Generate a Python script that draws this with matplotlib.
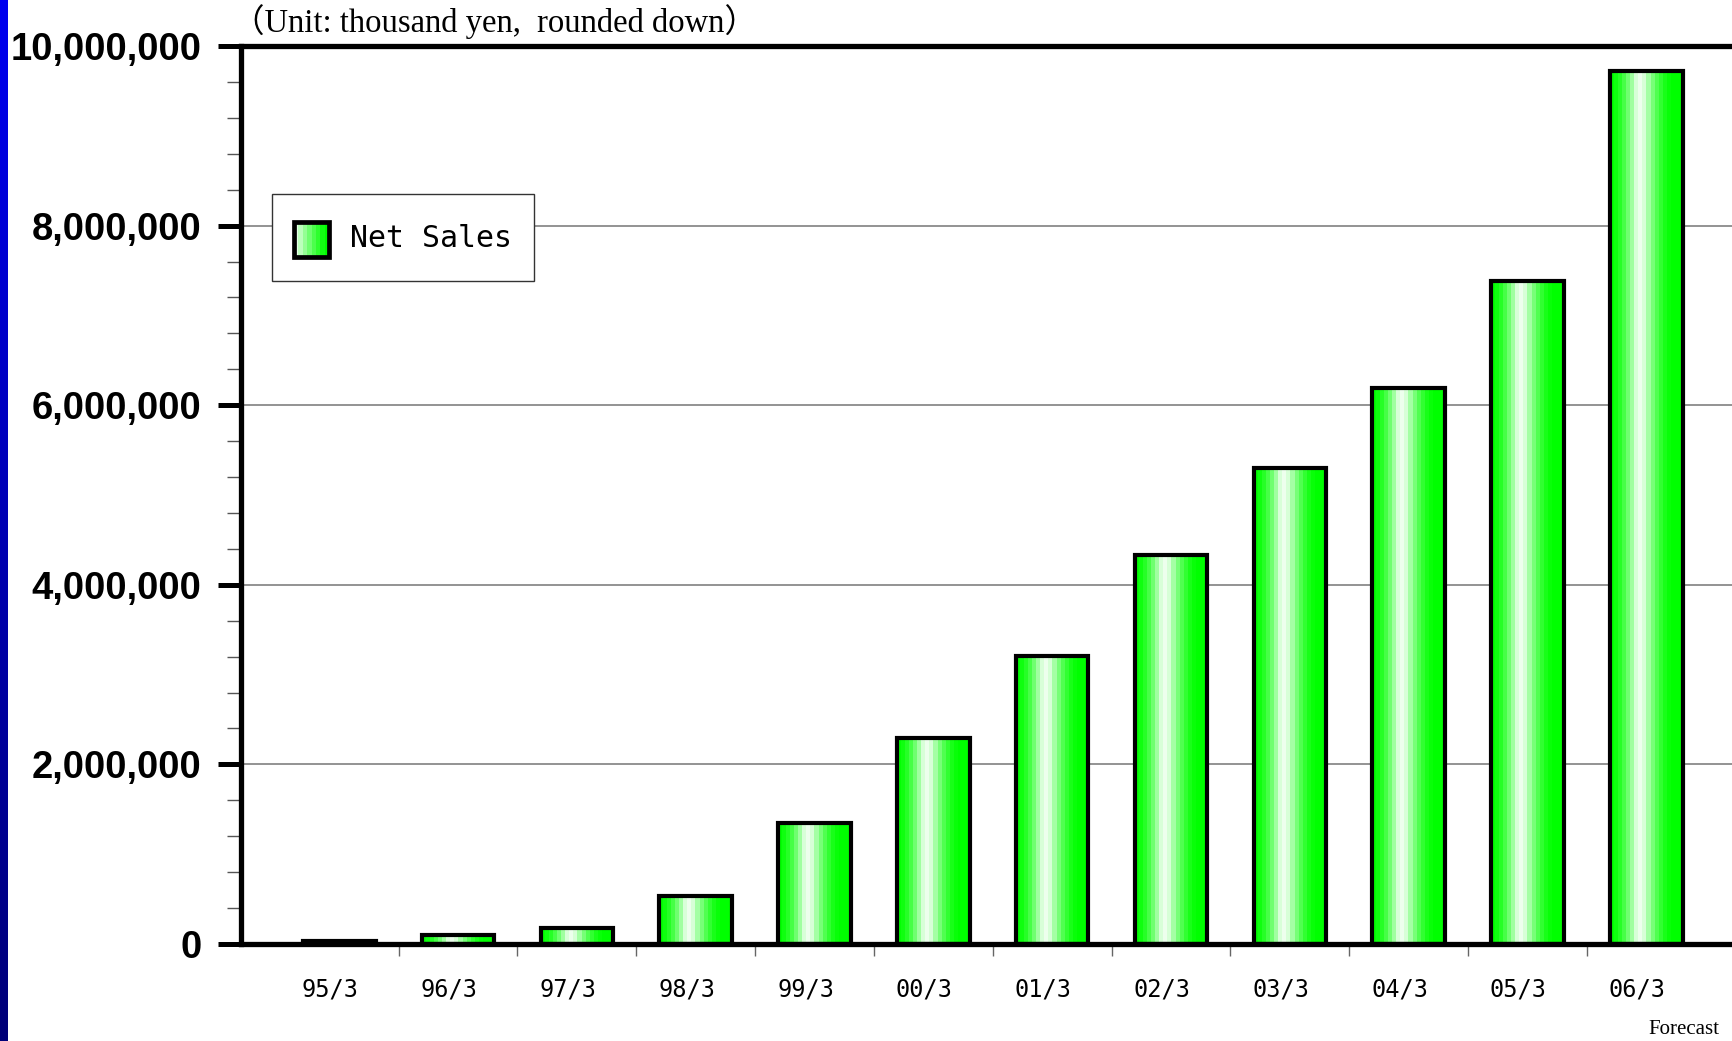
"""
Net sales bar chart (thousand yen), gradient green bars.
"""
import matplotlib
matplotlib.use("Agg")
import matplotlib.pyplot as plt
import matplotlib.ticker as mticker
import matplotlib.transforms as mtransforms
from matplotlib.colors import LinearSegmentedColormap
from matplotlib.patches import Rectangle
import numpy as np

# ---------------------------------------------------------------------------
# Data
# ---------------------------------------------------------------------------
periods = ["95/3", "96/3", "97/3", "98/3", "99/3", "00/3",
           "01/3", "02/3", "03/3", "04/3", "05/3", "06/3"]
net_sales = [30000, 100000, 180000, 530000, 1350000, 2290000,
             3210000, 4330000, 5300000, 6190000, 7380000, 9720000]

unit_note = "（Unit: thousand yen,  rounded down）"
series_name = "Net Sales"
forecast_note = "Forecast"

MONO = "DejaVu Sans Mono"


def _gradient(n=18):
    """Horizontal green -> white -> green band colours across a bar."""
    t = (np.arange(n) + 0.5) / n
    w = np.where(t < 0.38, (t / 0.38) ** 1.8,
                 np.where(t <= 0.45, 1.0,
                          np.clip(1 - (t - 0.45) / 0.42, 0, 1) ** 1.8))
    w = w * 0.93
    return np.stack([w, np.ones_like(w), w], axis=-1)


class GradientHandler:
    """Square legend key filled with white -> green bands."""

    def legend_artist(self, legend, orig_handle, fontsize, handlebox):
        x0, y0 = -handlebox.xdescent, -handlebox.ydescent
        w, h = handlebox.width, handlebox.height
        s = min(w, h)
        y0 = y0 + (h - s) / 2 - 1.5
        n = 8
        tr = handlebox.get_transform()
        for i in range(n):
            v = 0.9 * (1 - i / (n - 1)) ** 1.3
            handlebox.add_artist(Rectangle((x0 + i * s / n, y0), s / n + 0.3, s,
                                           facecolor=(v, 1, v), edgecolor="none",
                                           transform=tr))
        outline = Rectangle((x0, y0), s, s, facecolor="none", edgecolor="black",
                            linewidth=3.4, transform=tr)
        handlebox.add_artist(outline)
        return outline


# ---------------------------------------------------------------------------
# Figure
# ---------------------------------------------------------------------------
W, H = 1733, 1041
fig = plt.figure(figsize=(W / 100, H / 100), dpi=100)
fig.patch.set_facecolor("white")

# blue stripe on the left edge
stripe = fig.add_axes([0, 0, 8 / W, 1])
stripe.imshow(np.linspace(0, 1, 256)[:, None], aspect="auto",
              cmap=LinearSegmentedColormap.from_list("b", ["#0000F0", "#000078"]))
stripe.set_axis_off()

ax = fig.add_axes([241 / W, (H - 944) / H, (W - 241) / W, 898 / H])

x = np.arange(len(periods))
bars = ax.bar(x, net_sales, width=0.61, facecolor="none", edgecolor="black",
              linewidth=3.0, zorder=3, label=series_name)

grad = _gradient()[np.newaxis, :, :]
for b in bars:
    ax.imshow(grad, extent=(b.get_x(), b.get_x() + b.get_width(), 0, b.get_height()),
              aspect="auto", interpolation="nearest", zorder=2)

ax.set_xlim(-0.827, 11.73)
ax.set_ylim(0, 10_000_000)

# spines
for side in ("left", "top", "bottom"):
    ax.spines[side].set_linewidth(3.8)
    ax.spines[side].set_color("black")
ax.spines["right"].set_visible(False)

# y axis
ax.yaxis.set_major_locator(mticker.MultipleLocator(2_000_000))
ax.yaxis.set_minor_locator(mticker.MultipleLocator(400_000))
ax.yaxis.set_major_formatter(mticker.FuncFormatter(lambda v, _: f"{v:,.0f}"))
ax.tick_params(axis="y", which="major", length=16.5, width=3.6, color="black",
               pad=12, labelsize=27.5)
ax.tick_params(axis="y", which="minor", length=10, width=1.0, color="#555555")
for lab in ax.get_yticklabels():
    lab.set_fontfamily("Liberation Sans")
    lab.set_fontweight("bold")

ax.yaxis.grid(True, which="major", color="#808080", linewidth=1.2)
ax.set_axisbelow(True)

# x axis: ticks at category boundaries, labels at centres
ax.set_xticks(x[:-1] + 0.5)
ax.set_xticklabels([])
ax.set_xticks(x, minor=True)
ax.set_xticklabels(periods, minor=True, fontsize=17, fontfamily=MONO)
ax.tick_params(axis="x", which="major", length=8.5, width=1.0, color="#666666")
ax.tick_params(axis="x", which="minor", length=0, pad=24)
shift = mtransforms.ScaledTranslation(-9 / 100, 0, fig.dpi_scale_trans)
for lab in ax.get_xticklabels(minor=True):
    lab.set_transform(lab.get_transform() + shift)

# legend
leg = ax.legend(handler_map={type(bars): GradientHandler()},
                loc="upper left", bbox_to_anchor=(0.0208, 0.835), borderaxespad=0,
                prop={"family": MONO, "size": 21.5}, frameon=True, fancybox=False,
                edgecolor="#333333", framealpha=1, borderpad=0.74,
                handlelength=1.17, handleheight=1.835, handletextpad=0.7)
leg.get_frame().set_linewidth(1.0)
leg.set_zorder(5)

# annotations
fig.text(232 / W, 1 - 22 / H, unit_note, fontsize=23.5, va="center", ha="left",
         family=["Liberation Serif", "Noto Sans CJK JP"])
fig.text(1719 / W, 1 - 1030 / H, forecast_note, fontsize=15, va="center", ha="right",
         family="Liberation Serif")

fig.savefig("out.png", dpi=100)
plt.close(fig)
